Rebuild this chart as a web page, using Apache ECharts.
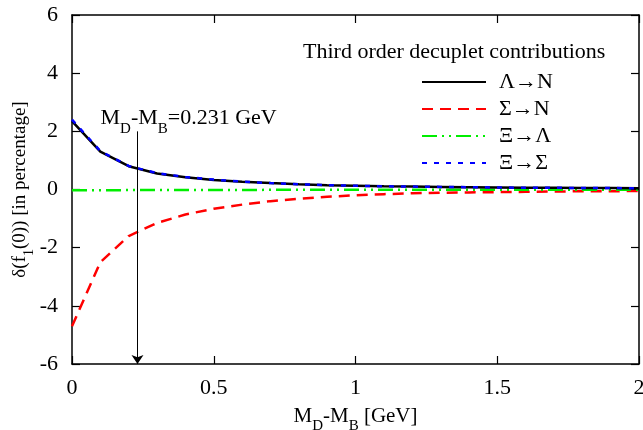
<!DOCTYPE html>
<html>
<head>
<meta charset="utf-8">
<script src="https://cdn.jsdelivr.net/npm/echarts@6/dist/echarts.min.js"></script>
<style>html,body{margin:0;padding:0;background:#fff}#c{width:643px;height:430px}</style>
</head>
<body>
<div id="c"></div>
<script>
const xs        = [0, 0.1, 0.2, 0.3, 0.4, 0.5, 0.6, 0.7, 0.8, 0.9, 1.0, 1.1, 1.2, 1.3, 1.4, 1.5, 1.6, 1.7, 1.8, 1.9, 2.0];
const lambdaN   = [2.35, 1.30, 0.80, 0.55, 0.42, 0.33, 0.27, 0.22, 0.18, 0.15, 0.13, 0.11, 0.10, 0.09, 0.08, 0.07, 0.06, 0.06, 0.05, 0.05, 0.04];
const sigmaN    = [-4.7, -2.5, -1.6, -1.15, -0.86, -0.66, -0.52, -0.40, -0.32, -0.25, -0.20, -0.16, -0.13, -0.11, -0.10, -0.09, -0.08, -0.07, -0.06, -0.06, -0.05];
const xiLambda  = [-0.03, -0.03, -0.02, -0.02, -0.02, -0.02, -0.02, -0.01, -0.01, -0.01, -0.01, -0.01, -0.01, -0.01, -0.01, -0.01, -0.01, -0.01, -0.01, -0.01, -0.01];
const xiSigma   = [2.40, 1.32, 0.81, 0.56, 0.43, 0.34, 0.27, 0.22, 0.18, 0.15, 0.13, 0.11, 0.10, 0.09, 0.08, 0.07, 0.06, 0.06, 0.05, 0.05, 0.04];
const seriesNames = ['Λ→N', 'Σ→N', 'Ξ→Λ', 'Ξ→Σ'];
const markerX = 0.231;

const pairs = ys => xs.map((x, i) => [x, ys[i]]);
const FONT = '"Liberation Serif", "DejaVu Serif", serif';
const sub = { fontFamily: FONT, fontSize: 15, verticalAlign: 'bottom', padding: [0, 0, -7, 0], color: '#000' };
const subY = { fontFamily: FONT, fontSize: 14, verticalAlign: 'bottom', padding: [0, 0, -6, 0], color: '#000' };

const mirrorAxis = {
  axisLine: { show: true, onZero: false, lineStyle: { color: '#000', width: 1.5 } },
  axisTick: { show: true, inside: true, length: 8, lineStyle: { color: '#000', width: 1.2 } },
  axisLabel: { show: false }, splitLine: { show: false }
};

const chart = echarts.init(document.getElementById('c'), null, { renderer: 'canvas' });
chart.setOption({
  animation: false,
  backgroundColor: '#fff',
  textStyle: { fontFamily: FONT },
  grid: { left: 72, right: 4, top: 15, bottom: 66, containLabel: false, outerBoundsMode: 'none' },
  title: {
    text: 'Third order decuplet contributions',
    left: 298, top: 36,
    textStyle: { fontFamily: FONT, fontSize: 22, fontWeight: 'normal', color: '#000' }
  },
  legend: {
    orient: 'vertical', left: 416, top: 66,
    itemWidth: 64, itemHeight: 14, itemGap: 5,
    itemStyle: { opacity: 0 },
    textStyle: { fontFamily: FONT, fontSize: 22, color: '#000', padding: [0, 0, 0, 8] },
    data: seriesNames
  },
  xAxis: [{
    type: 'value', min: 0, max: 2, interval: 0.5,
    name: 'M{s|D}-M{s|B} [GeV]', nameLocation: 'middle', nameGap: 42,
    nameTextStyle: { fontFamily: FONT, fontSize: 21, color: '#000', rich: { s: sub } },
    axisLine: { onZero: false, lineStyle: { color: '#000', width: 1.5 } },
    axisTick: { inside: true, length: 8, lineStyle: { color: '#000', width: 1.2 } },
    axisLabel: { fontFamily: FONT, fontSize: 22, color: '#000', margin: 13, formatter: v => String(v) },
    splitLine: { show: false }
  }, Object.assign({ type: 'value', min: 0, max: 2, interval: 0.5, position: 'top' }, mirrorAxis)],
  yAxis: [{
    type: 'value', min: -6, max: 6, interval: 2,
    name: 'δ(f{s|1}(0)) [in percentage]', nameLocation: 'middle', nameGap: 42, nameRotate: 90,
    nameMoveOverlap: false,
    nameTextStyle: { fontFamily: FONT, fontSize: 19, color: '#000', rich: { s: subY } },
    axisLine: { onZero: false, lineStyle: { color: '#000', width: 1.5 } },
    axisTick: { inside: true, length: 8, lineStyle: { color: '#000', width: 1.2 } },
    axisLabel: { fontFamily: FONT, fontSize: 22, color: '#000', margin: 14 },
    splitLine: { show: false }
  }, Object.assign({ type: 'value', min: -6, max: 6, interval: 2, position: 'right' }, mirrorAxis)],
  series: [
    {
      name: seriesNames[0], type: 'line', data: pairs(lambdaN), symbol: 'none', z: 3,
      lineStyle: { color: '#000', width: 2.5, type: 'solid' }, itemStyle: { color: '#000' },
      markLine: {
        silent: true, symbol: ['none', 'arrow'], symbolSize: 9,
        lineStyle: { color: '#000', width: 1, type: 'solid' },
        label: { show: false },
        data: [[{ coord: [markerX, 2] }, { coord: [markerX, -6] }]]
      },
      markPoint: {
        silent: true, symbol: 'circle', symbolSize: 0,
        data: [{ coord: [markerX, 2], label: {
          show: true, position: [-37, -24],
          formatter: 'M{s|D}-M{s|B}=0.231 GeV',
          fontFamily: FONT, fontSize: 22, color: '#000', rich: { s: sub }
        } }]
      }
    },
    {
      name: seriesNames[1], type: 'line', data: pairs(sigmaN), symbol: 'none', z: 2,
      lineStyle: { color: '#ff0000', width: 2.5, type: [11, 7] }, itemStyle: { color: '#ff0000' }
    },
    {
      name: seriesNames[2], type: 'line', data: pairs(xiLambda), symbol: 'none', z: 2,
      lineStyle: { color: '#00ee00', width: 2.5, type: [15, 5, 2, 5, 2, 5] }, itemStyle: { color: '#00ee00' }
    },
    {
      name: seriesNames[3], type: 'line', data: pairs(xiSigma), symbol: 'none', z: 4,
      lineStyle: { color: '#0000ff', width: 2.5, type: [5, 7] }, itemStyle: { color: '#0000ff' }
    }
  ]
});
</script>
</body>
</html>
